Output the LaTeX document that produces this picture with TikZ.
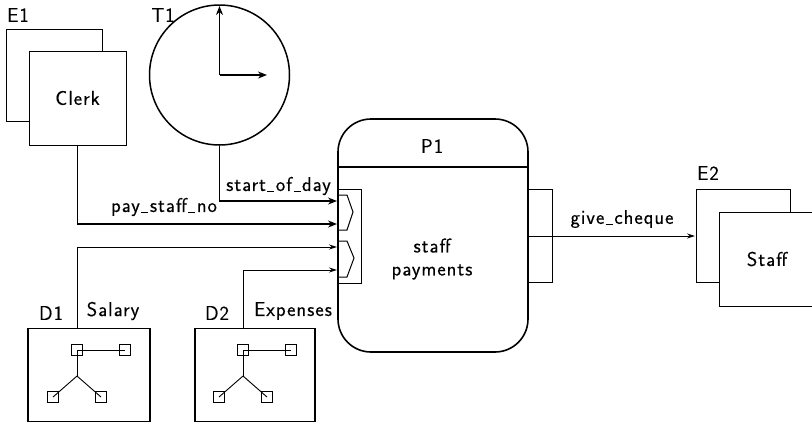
\documentclass[tikz,border=0pt]{standalone}
\usepackage{fontspec}
\setsansfont{Latin Modern Sans}[LetterSpace=5,FakeBold=.25]
\usepackage{tikz}
\usetikzlibrary{arrows.meta}
\newcommand{\lowbar}{\kern1.5pt\rule[-1.5pt]{7pt}{1pt}\kern1.5pt}

\begin{document}
\begin{tikzpicture}[x=1pt, y=-1pt, font=\sffamily\fontsize{20}{23}\selectfont]
\tikzstyle{every node} = [inner sep=0pt]
\tikzstyle{box} = [draw, fill=white, rectangle, line width=1pt]
\tikzstyle{store} = [draw, rectangle, line width=1.6pt, minimum width=122pt, minimum height=93pt]
\tikzstyle{tiny} = [draw, fill=white, rectangle, line width=1pt, minimum size=11pt]
\tikzstyle{thickflow} = [line width=1.5pt, -{Stealth[length=9pt,width=7pt]}]
\tikzstyle{thinflow} = [line width=.9pt, -{Stealth[length=8pt,width=5pt]}]
\useasboundingbox (0,0) rectangle (812,426);

% external entities
\node (e1back) [box, minimum width=96pt, minimum height=92pt] at (54,75) {};
\node (clerk) [box, minimum width=97pt, minimum height=94pt] at (77.5,98) {Clerk};
\node (e2back) [box, minimum width=94pt, minimum height=93pt] at (743,235.5) {};
\node (staff) [box, minimum width=96pt, minimum height=94pt] at (767,259) {Staff};
\node (e1) at (18,15) {E1};
\node (e2) at (708,173) {E2};

% timer
\node (clock) [draw, circle, line width=1.5pt, minimum size=140pt] at (219.5,75) {};
\node (t1) at (163,15) {T1};
\coordinate (hub) at (219.5,75);
\coordinate (hour) at (219.5,6);
\coordinate (minute) at (267,75);
\foreach \to in {hour, minute}
\draw [line width=1.5pt, -{Stealth[length=9pt,width=7pt]}] (hub) -- (\to);

% process
\node (p1) [draw, rectangle, rounded corners=33pt, line width=1.6pt, minimum width=190pt, minimum height=233pt] at (433,235.5) {};
\coordinate (divl) at (338,167);
\coordinate (divr) at (528,167);
\draw [line width=1.3pt] (divl) -- (divr);
\node (p1name) at (432,146) {P1};
\node (title) [align=center] at (432,259) {staff\\payments};

% in and out tabs
\node (intab) [box, minimum width=23pt, minimum height=94pt] at (349.5,236) {};
\node (outtab) [box, minimum width=24pt, minimum height=93pt] at (540,235.5) {};
\draw [line width=1pt] (338,195) -- (347,195) -- (353,212) -- (347,230) -- (338,230);
\draw [line width=1pt] (338,241) -- (347,241) -- (354,258) -- (347,277) -- (338,277);

% stores
\node (d1box) [store] at (89,375) {};
\node (d2box) [store, minimum width=120pt] at (255,375) {};
\node (d1) at (51,313) {D1};
\node (salary) at (113,311) {Salary};
\node (d2) at (217,313) {D2};
\node (expenses) at (293,311) {Expenses};

% little trees in the stores
\foreach \name/\dx in {a/77, b/243} {
\coordinate (\name j) at (\dx,376);
\node (\name r) [tiny] at (\dx,350) {};
\node (\name s) [tiny] at (\dx+48,350) {};
\node (\name t) [tiny] at (\dx-24,397) {};
\node (\name u) [tiny] at (\dx+24,397) {};
\foreach \from/\to in {r/s, r/j, j/t, j/u}
\draw [line width=.9pt] (\name\from.center) -- (\name\to.center);
}

% ports on the process
\coordinate (port1) at (337,201);
\coordinate (port2) at (337,224);
\coordinate (port3) at (337,247);
\coordinate (port4) at (337,270);
\coordinate (sink) at (695,236);

% flows
\draw [thickflow] (clock.south) |- (port1);
\draw [thickflow] (clerk.south) |- (port2);
\draw [thinflow] (d1box.north -| clerk.south) |- (port3);
\coordinate (d2top) at (243,329);
\draw [thinflow] (d2top) |- (port4);
\draw [thinflow] (divr |- sink) -- (sink);

\node (startday) at (278.5,186) {start\lowbar of\lowbar day};
\node (payno) at (164,207) {pay\lowbar staff\lowbar no};
\node (cheque) at (622,219) {give\lowbar cheque};
\end{tikzpicture}
\end{document}
